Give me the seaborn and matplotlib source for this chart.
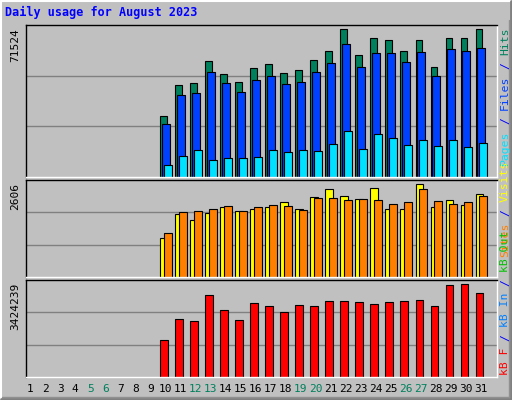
import matplotlib
matplotlib.use("Agg")
import matplotlib.pyplot as plt
import seaborn as sns
import numpy as np
from matplotlib.lines import Line2D

sns.set_style("white")
plt.rcParams['font.family'] = ['DejaVu Sans Mono']

days = list(range(1, 32))
active = list(range(10, 32))
hits = [29600, 44700, 45700, 56400, 50100, 46200, 53000, 54900, 50600, 52000, 56900,
        61300, 71524, 59300, 67600, 66600, 61300, 66600, 53500, 67600, 67600, 71524]
files = [25700, 39800, 40800, 51000, 45700, 41300, 47100, 49100, 45200, 46200, 51000,
         55400, 64700, 53500, 60300, 60300, 55900, 60800, 49100, 61800, 61300, 62300]
pages = [5700, 10100, 13000, 8100, 9100, 9100, 9600, 13000, 12000, 13000, 12500,
         15900, 22300, 13500, 20800, 18900, 15400, 17900, 15000, 17900, 14500, 16400]
visits = [1105, 1785, 1615, 1813, 1983, 1869, 1926, 1983, 2124, 1926, 2266,
          2465, 2294, 2209, 2493, 1926, 1926, 2606, 1983, 2181, 2039, 2323]
sites = [1246, 1841, 1869, 1926, 2011, 1869, 1983, 2039, 2011, 1898, 2238,
         2238, 2181, 2209, 2181, 2068, 2124, 2465, 2153, 2068, 2124, 2294]
kbytes = [1355000, 2145000, 2070000, 3048000, 2483000, 2107000, 2747000, 2634000, 2408000,
          2671000, 2634000, 2822000, 2822000, 2785000, 2709000, 2785000, 2822000, 2860000,
          2634000, 3387000, 3424239, 3123000]
weekends = [5, 6, 12, 13, 19, 20, 26, 27]
max_hits, max_visits, max_kb = 71524, 2606, 3424239

BG = "#c0c0c0"
W, H = 512, 400
fig = plt.figure(figsize=(5.12, 4.0), dpi=100, facecolor=BG)

D1, DS = 30.2, 15.01   # pixel x of day 1 and day spacing
L, R = 26, 497
XL = 1 - (D1 - L) / DS
XR = 1 + (R - D1) / DS

def panel(rect, ymax):
    ax = fig.add_axes(rect)
    ax.set_facecolor(BG)
    ax.set_xlim(XL, XR)
    ax.set_ylim(0, ymax)
    for v in (ymax / 3, 2 * ymax / 3):
        ax.axhline(v, color="#808080", lw=1, zorder=0)
    ax.set_xticks([]); ax.set_yticks([])
    for s in ("top", "left"):
        ax.spines[s].set_color("black")
    for s in ("bottom", "right"):
        ax.spines[s].set_color("white")
    for s in ax.spines.values():
        s.set_linewidth(1)
    return ax

x = np.array(active, dtype=float)
ek = dict(edgecolor="black", linewidth=0.8, align="edge", zorder=2)
pw = (R - L) / W

ax1 = panel([L/W, 0.5575, pw, 0.38], max_hits * 1.03)
ax1.bar(x - 0.33, hits, width=0.46, color="#00805c", **ek)
ax1.bar(x - 0.20, files, width=0.51, color="#0040ff", **ek)
ax1.bar(x - 0.07, pages, width=0.49, color="#00e0ff", **ek)

ax2 = panel([L/W, 0.3075, pw, 0.2425], max_visits * 1.048)
ax2.bar(x - 0.33, visits, width=0.51, color="#ffff00", **ek)
ax2.bar(x - 0.07, sites, width=0.49, color="#ff8000", **ek)

ax3 = panel([L/W, 0.0575, pw, 0.2425], max_kb * 1.047)
ax3.bar(x - 0.33, kbytes, width=0.49, color="#ff0000", **ek)

for val, ytop in ((max_hits, 28), (max_visits, 183), (max_kb, 283)):
    fig.text(15/W, 1 - ytop/H, str(val), rotation=90, ha="center", va="top",
             fontsize=8, color="black")

CH = 6.86  # px per monospace char
def legend(ybottom, parts):
    pos = 0
    for p, c in parts:
        stripped = p.strip()
        lead = len(p) - len(p.lstrip())
        y = ybottom - (pos + lead) * CH
        fig.text(505/W, 1 - y/H, stripped, rotation=90, rotation_mode="anchor",
                 ha="left", va="center", fontsize=8.2, color=c)
        pos += len(p)

legend(165, [("Pages", "#00e0ff"), (" /", "#0000ff"), (" Files", "#0040ff"),
             (" /", "#0000ff"), (" Hits", "#00805c")])
legend(257, [("Sites", "#ff8000"), (" /", "#0000ff"), (" Visits", "#ffff00")])
legend(375, [("kB F", "#ff0000"), (" /", "#0000ff"), (" kB In", "#0080ff"),
             (" /", "#0000ff"), (" kB Out", "#00c000")])

for d in days:
    xp = D1 + (d - 1) * DS
    fig.text(xp/W, 1 - 389/H, str(d), ha="center", va="center", fontsize=8,
             color="#00805c" if d in weekends else "black")

fig.text(5/W, 1 - 12/H, "Daily usage for August 2023", ha="left", va="center",
         fontsize=8.5, fontweight="bold", color="#0000ff")

def ln(x0, y0, x1, y1, c, lw=1.5):
    fig.add_artist(Line2D([x0/W, x1/W], [1 - y0/H, 1 - y1/H], color=c, lw=lw))
ln(0.5, 0.5, 511.5, 0.5, "white"); ln(0.5, 0.5, 0.5, 399.5, "white")
ln(0.5, 399.3, 511.5, 399.3, "#808080", 2); ln(511.3, 0.5, 511.3, 399.5, "#808080", 2)
ln(2, 397, 509, 397, "#909090", 1); ln(509, 20, 509, 397, "#909090", 1)

fig.savefig("out.png", dpi=100, facecolor=BG)
